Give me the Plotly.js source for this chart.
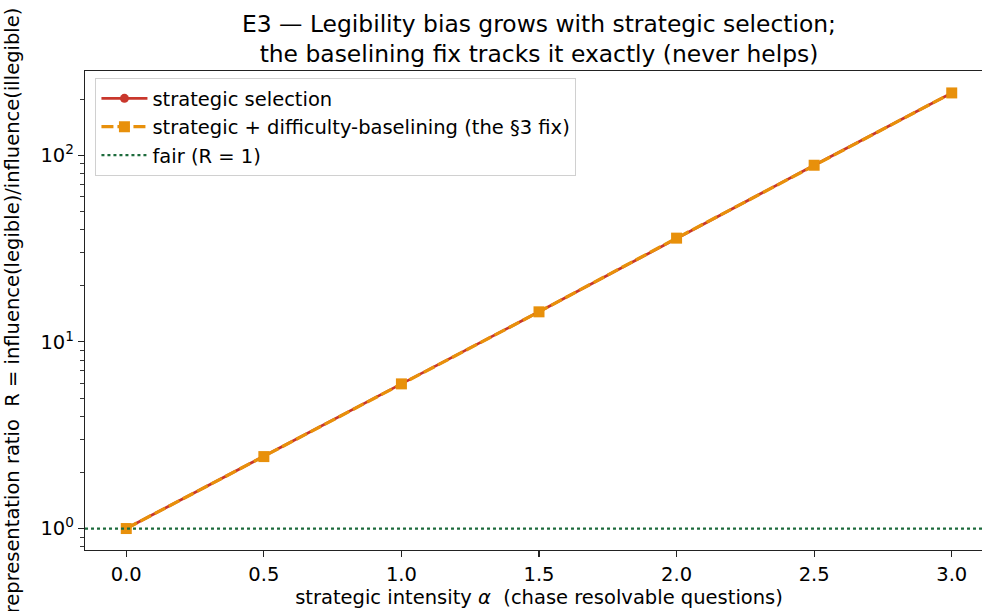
<!DOCTYPE html>
<html>
<head>
<meta charset="utf-8">
<script src="https://cdn.plot.ly/plotly-3.0.1.min.js"></script>
<style>
html,body{margin:0;padding:0;overflow:hidden;background:#fff;}
#chart{width:1000px;height:611px;}
</style>
</head>
<body>
<div id="chart"></div>
<script>
// Data
const alpha = [0.0, 0.5, 1.0, 1.5, 2.0, 2.5, 3.0];
const strategicR = [1.0, 2.43, 5.96, 14.5, 36.0, 88.5, 216];
const baselinedR = [1.0, 2.43, 5.96, 14.5, 36.0, 88.5, 216];
const fairR = 1;
const xRange = [-0.15, 3.15];
const yTickVals = [1, 10, 100];
const yTickText = ['10<sup>0</sup>', '10<sup>1</sup>', '10<sup>2</sup>'];
const yMinorVals = [0.8, 0.9, 2, 3, 4, 5, 6, 7, 8, 9, 20, 30, 40, 50, 60, 70, 80, 90, 200, 300];
const xTickVals = [0.0, 0.5, 1.0, 1.5, 2.0, 2.5, 3.0];

const FONT = 'DejaVu Sans, sans-serif';
const FS = 19.5;
const RED = '#c9372c';
const ORANGE = '#e8900b';
const GREEN = '#1d6b3c';

const traces = [
  {
    x: alpha, y: strategicR, name: 'strategic selection',
    mode: 'lines+markers', type: 'scatter',
    line: {color: RED, width: 2.8},
    marker: {symbol: 'circle', size: 9, color: RED}
  },
  {
    x: alpha, y: baselinedR, name: 'strategic + difficulty-baselining (the §3 fix)',
    mode: 'lines+markers', type: 'scatter',
    line: {color: ORANGE, width: 3.2, dash: '12px,4px'},
    marker: {symbol: 'square', size: 11, color: ORANGE}
  },
  {
    x: xRange, y: [fairR, fairR], name: 'fair (R = 1)',
    mode: 'lines', type: 'scatter',
    line: {color: GREEN, width: 2.2, dash: 'dot'}
  }
];

const layout = {
  width: 1000, height: 611,
  margin: {l: 85, r: 7, t: 71, b: 61, pad: 0},
  paper_bgcolor: '#fff', plot_bgcolor: '#fff',
  font: {family: FONT, size: FS, color: '#000'},
  title: {
    text: 'E3 — Legibility bias grows with strategic selection;<br>the baselining fix tracks it exactly (never helps)',
    font: {family: FONT, size: 23.4, color: '#000'},
    x: 0.5, xref: 'paper', xanchor: 'center',
    y: 1 - 32 / 611, yref: 'container', yanchor: 'middle'
  },
  showlegend: true,
  legend: {
    x: 0.0115, y: 0.985, xanchor: 'left', yanchor: 'top',
    bgcolor: 'rgba(255,255,255,0.8)', bordercolor: '#d0d0d0', borderwidth: 1,
    font: {family: FONT, size: FS, color: '#000'},
    itemwidth: 46,
    tracegroupgap: 0
  },
  xaxis: {
    range: xRange, showgrid: false, zeroline: false,
    showline: true, linecolor: '#222', linewidth: 1.2, mirror: true,
    ticks: 'outside', ticklen: 6, tickwidth: 1.1, tickcolor: '#222',
    tickmode: 'array', tickvals: xTickVals, tickformat: '.1f',
    tickfont: {family: FONT, size: FS, color: '#000'},
    title: {text: 'strategic intensity <i>α</i>  (chase resolvable questions)', font: {family: FONT, size: FS, color: '#000'}, standoff: 2}
  },
  yaxis: {
    type: 'log', range: [-0.115, 2.452], showgrid: false, zeroline: false,
    showline: true, linecolor: '#222', linewidth: 1.2, mirror: true,
    ticks: 'outside', ticklen: 6, tickwidth: 1.1, tickcolor: '#222',
    tickmode: 'array', tickvals: yTickVals, ticktext: yTickText,
    tickfont: {family: FONT, size: FS, color: '#000'},
    minor: {ticks: 'outside', ticklen: 3.5, tickwidth: 0.9, tickcolor: '#222', tickmode: 'array', tickvals: yMinorVals, showgrid: false},
    title: {text: 'representation ratio  R = influence(legible)/influence(illegible)', font: {family: FONT, size: FS, color: '#000'}, standoff: 15}
  }
};

Plotly.newPlot('chart', traces, layout, {displayModeBar: false, staticPlot: true});
</script>
</body>
</html>
